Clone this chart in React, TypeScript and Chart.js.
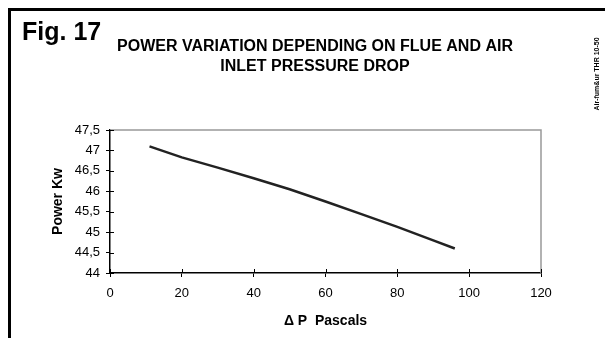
import React, { useEffect, useRef } from "react";
import { Chart, registerables } from "chart.js";

Chart.register(...registerables);

const pressureDrop = [11, 20, 30, 40, 50, 60, 70, 80, 90, 96];
const powerKw = [47.1, 46.83, 46.58, 46.32, 46.05, 45.75, 45.44, 45.13, 44.8, 44.6];
const figLabel = "Fig. 17";
const titleLines = ["POWER VARIATION DEPENDING ON FLUE AND AIR", "INLET PRESSURE DROP"];
const sideNote = "Air-fum&ur THR 10-50";
const xAxisTitle = "\u0394 P  Pascals";
const yAxisTitle = "Power Kw";

const W = 605;
const H = 338;

const decorPlugin = {
  id: "decor",
  afterDraw(chart: any) {
    const ctx = chart.ctx as CanvasRenderingContext2D;
    const area = chart.chartArea;
    const xs = chart.scales.x;
    const ys = chart.scales.y;
    ctx.save();
    // outer frame (top + left)
    ctx.fillStyle = "#000";
    ctx.fillRect(8, 8, W - 8, 3);
    ctx.fillRect(8, 8, 3, H - 8);
    // Fig label
    ctx.font = "bold 25px Arial, 'Liberation Sans', sans-serif";
    ctx.textAlign = "left";
    ctx.textBaseline = "alphabetic";
    ctx.fillText(figLabel, 22, 40);
    // main title
    ctx.font = "bold 16px Arial, 'Liberation Sans', sans-serif";
    ctx.textAlign = "center";
    ctx.textBaseline = "middle";
    titleLines.forEach((t, i) => ctx.fillText(t, 315, 47 + i * 20));
    // side note (vertical)
    ctx.save();
    ctx.translate(597, 74);
    ctx.rotate(-Math.PI / 2);
    ctx.font = "bold 7px Arial, 'Liberation Sans', sans-serif";
    ctx.textAlign = "center";
    ctx.textBaseline = "middle";
    ctx.fillText(sideNote, 0, 0);
    ctx.restore();
    // gray top/right border of plot area
    ctx.strokeStyle = "#999";
    ctx.lineWidth = 1.5;
    ctx.beginPath();
    ctx.moveTo(area.left, area.top);
    ctx.lineTo(area.right, area.top);
    ctx.lineTo(area.right, area.bottom);
    ctx.stroke();
    // inner tick parts
    ctx.strokeStyle = "#000";
    ctx.lineWidth = 1;
    ctx.beginPath();
    xs.ticks.forEach((t: any) => {
      const px = Math.round(xs.getPixelForValue(t.value)) + 0.5;
      ctx.moveTo(px, area.bottom);
      ctx.lineTo(px, area.bottom - 4);
    });
    ys.ticks.forEach((t: any) => {
      const py = Math.round(ys.getPixelForValue(t.value)) + 0.5;
      ctx.moveTo(area.left, py);
      ctx.lineTo(area.left + 4, py);
    });
    ctx.stroke();
    ctx.restore();
  },
};

export default function App() {
  const ref = useRef<HTMLCanvasElement | null>(null);
  useEffect(() => {
    if (!ref.current) return;
    const tickFont = { family: "Arial, 'Liberation Sans', sans-serif", size: 13 };
    const titleFont = { family: "Arial, 'Liberation Sans', sans-serif", size: 14, weight: "bold" as const };
    const chart = new Chart(ref.current, {
      type: "line",
      data: {
        datasets: [
          {
            data: pressureDrop.map((x, i) => ({ x, y: powerKw[i] })),
            borderColor: "#222",
            borderWidth: 2.5,
            pointRadius: 0,
            tension: 0,
            fill: false,
          },
        ],
      },
      options: {
        responsive: false,
        animation: false,
        devicePixelRatio: 1,
        layout: { padding: { left: 0, right: 64, top: 130, bottom: 0 } },
        plugins: { legend: { display: false }, title: { display: false }, tooltip: { enabled: false } },
        scales: {
          x: {
            type: "linear",
            min: 0,
            max: 120,
            ticks: { stepSize: 20, color: "#000", font: tickFont, padding: 9, maxRotation: 0 },
            grid: { display: true, drawOnChartArea: false, color: "#000", tickLength: 4 },
            border: { display: true, color: "#000", width: 1.5 },
            title: { display: true, text: xAxisTitle, color: "#000", font: titleFont, padding: { top: 0, bottom: 8 } },
            afterFit: (s: any) => { s.height = 65; },
          },
          y: {
            type: "linear",
            min: 44,
            max: 47.5,
            ticks: {
              stepSize: 0.5,
              color: "#000",
              font: tickFont,
              padding: 6,
              callback: (v: any) => String(v).replace(".", ","),
            },
            grid: { display: true, drawOnChartArea: false, color: "#000", tickLength: 4 },
            border: { display: true, color: "#000", width: 1.5 },
            title: { display: true, text: yAxisTitle, color: "#000", font: titleFont, padding: { top: 50, bottom: 0 } },
            afterFit: (s: any) => { s.width = 110; },
          },
        },
      },
      plugins: [decorPlugin],
    });
    return () => chart.destroy();
  }, []);
  return (
    <div style={{ position: "fixed", left: 0, top: 0, width: W, height: H, background: "#fff" }}>
      <canvas ref={ref} width={W} height={H} style={{ width: W, height: H, display: "block" }} />
    </div>
  );
}
